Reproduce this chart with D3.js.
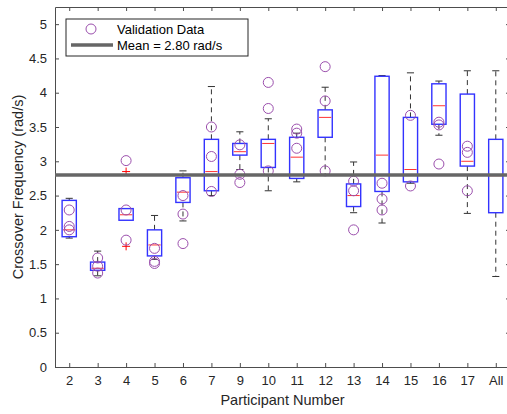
<!DOCTYPE html>
<html>
<head>
<meta charset="utf-8">
<script src="https://cdn.jsdelivr.net/npm/d3@7"></script>
<style>
  body { margin: 0; background: #fff; }
  svg { display: block; font-family: "Liberation Sans", Arial, sans-serif; }
</style>
</head>
<body>
<div id="chart"></div>
<script>
// Dimensions
const width = 507;
const height = 414;
const margin = {top: 7, right: -3, bottom: 47, left: 55};

// Data
const participants = ["2", "3", "4", "5", "6", "7", "9", "10", "11", "12", "13", "14", "15", "16", "17", "All"];
const whiskerLow  = [1.88, 1.33, 2.14, 1.57, 2.13, 2.50, 2.88, 2.57, 2.70, 2.81, 2.25, 2.10, 2.68, 3.38, 2.24, 1.32];
const q1          = [1.90, 1.41, 2.14, 1.62, 2.40, 2.57, 3.09, 2.91, 2.75, 3.35, 2.34, 2.56, 2.70, 3.54, 2.93, 2.25];
const medians     = [2.00, 1.44, 2.22, 1.78, 2.55, 2.85, 3.14, 3.26, 3.06, 3.64, 2.50, 3.09, 2.88, 3.81, 3.00, 2.79];
const q3          = [2.43, 1.53, 2.31, 2.00, 2.76, 3.32, 3.26, 3.32, 3.35, 3.75, 2.67, 4.24, 3.64, 4.13, 3.98, 3.32];
const whiskerHigh = [2.46, 1.69, 2.31, 2.21, 2.86, 4.09, 3.43, 3.62, 3.41, 4.08, 2.99, 4.25, 4.29, 4.17, 4.32, 4.32];
const outliers = [[], [], [2.85, 1.76], [], [], [], [], [], [], [], [], [], [], [], [], []];
const validation = [
    [2.29, 2.05, 2.00],
    [1.59, 1.47, 1.37],
    [3.01, 2.29, 1.85],
    [1.73, 1.54, 1.51],
    [2.50, 2.23, 1.80],
    [3.50, 3.07, 2.56],
    [3.24, 2.81, 2.69],
    [4.15, 3.77, 2.86],
    [3.47, 3.41, 3.19],
    [4.38, 3.88, 2.86],
    [2.71, 2.57, 2.00],
    [2.68, 2.45, 2.29],
    [3.67, 2.64],
    [3.57, 3.53, 2.96],
    [3.22, 3.13, 2.57],
    []
];
const meanValue = 2.80;
const yTicks = [0, 0.5, 1, 1.5, 2, 2.5, 3, 3.5, 4, 4.5, 5];

const boxes = participants.map((p, i) => ({
    name: p, lo: whiskerLow[i], q1: q1[i], med: medians[i], q3: q3[i], hi: whiskerHigh[i],
    out: outliers[i], val: validation[i]
}));

const innerW = width - margin.left - margin.right;
const innerH = height - margin.top - margin.bottom;

// Scales
const x = d3.scalePoint()
    .domain(participants)
    .range([0, innerW])
    .padding(0.5);
const step = x.step();

const y = d3.scaleLinear()
    .domain([0, 5.25])
    .range([innerH, 0]);

const svg = d3.select("#chart").append("svg")
    .attr("width", width)
    .attr("height", height);

const g = svg.append("g")
    .attr("transform", `translate(${margin.left},${margin.top})`);

const axisColor = "#4d4d4d";
const tickLen = 4;

// Axes
const xAxis = g.append("g")
    .attr("transform", `translate(0,${innerH})`)
    .call(d3.axisBottom(x).tickSizeInner(-tickLen).tickSizeOuter(0).tickPadding(9));
const xTop = g.append("g")
    .call(d3.axisTop(x).tickSizeInner(-tickLen).tickSizeOuter(0).tickFormat(""));
const yAxis = g.append("g")
    .call(d3.axisLeft(y).tickValues(yTicks).tickSizeInner(-tickLen).tickSizeOuter(0).tickPadding(8).tickFormat(d3.format("")));
const yRight = g.append("g")
    .attr("transform", `translate(${innerW},0)`)
    .call(d3.axisRight(y).tickValues(yTicks).tickSizeInner(-tickLen).tickSizeOuter(0).tickFormat(""));

[xAxis, xTop, yAxis, yRight].forEach(a => {
    a.select(".domain").attr("stroke", axisColor);
    a.selectAll(".tick line").attr("stroke", axisColor);
    a.selectAll("text").attr("fill", "#262626").style("font-size", "13px");
});

// Whiskers (dashed)
const grp = g.selectAll(".box")
    .data(boxes)
    .enter().append("g")
    .attr("class", "box")
    .attr("transform", d => `translate(${x(d.name)},0)`);

const halfBox = step * 0.25;
const halfCap = step * 0.125;

grp.append("line")
    .attr("x1", 0).attr("x2", 0)
    .attr("y1", d => y(d.q3)).attr("y2", d => y(d.hi))
    .attr("stroke", "#333").attr("stroke-dasharray", "5,4");
grp.append("line")
    .attr("x1", 0).attr("x2", 0)
    .attr("y1", d => y(d.q1)).attr("y2", d => y(d.lo))
    .attr("stroke", "#333").attr("stroke-dasharray", "5,4");
grp.filter(d => d.hi > d.q3).append("line")
    .attr("x1", -halfCap).attr("x2", halfCap)
    .attr("y1", d => y(d.hi)).attr("y2", d => y(d.hi))
    .attr("stroke", "#333");
grp.filter(d => d.lo < d.q1).append("line")
    .attr("x1", -halfCap).attr("x2", halfCap)
    .attr("y1", d => y(d.lo)).attr("y2", d => y(d.lo))
    .attr("stroke", "#333");

// Boxes
grp.append("rect")
    .attr("x", -halfBox)
    .attr("width", halfBox * 2)
    .attr("y", d => y(d.q3))
    .attr("height", d => y(d.q1) - y(d.q3))
    .attr("fill", "none")
    .attr("stroke", "#3333ff")
    .attr("stroke-width", 1.4);

// Medians
grp.append("line")
    .attr("x1", -halfBox + 1).attr("x2", halfBox - 1)
    .attr("y1", d => y(d.med)).attr("y2", d => y(d.med))
    .attr("stroke", "#ff3333");

// Outliers (red +)
grp.selectAll(".out")
    .data(d => d.out)
    .enter().append("path")
    .attr("class", "out")
    .attr("d", v => `M-4,${y(v)}H4M0,${y(v) - 4}V${y(v) + 4}`)
    .attr("stroke", "#ff0000");

// Mean line
g.append("line")
    .attr("x1", 0).attr("x2", innerW)
    .attr("y1", y(meanValue)).attr("y2", y(meanValue))
    .attr("stroke", "#666")
    .attr("stroke-width", 3.5);

// Validation data circles
grp.selectAll(".val")
    .data(d => d.val)
    .enter().append("circle")
    .attr("class", "val")
    .attr("cx", 0)
    .attr("cy", v => y(v))
    .attr("r", 5)
    .attr("fill", "none")
    .attr("stroke", "#9b4fad")
    .attr("stroke-width", 1);

// Axis labels
svg.append("text")
    .attr("x", margin.left + innerW / 2)
    .attr("y", 405)
    .attr("text-anchor", "middle")
    .attr("fill", "#262626")
    .style("font-size", "14.5px")
    .text("Participant Number");

svg.append("text")
    .attr("transform", `translate(23,${margin.top + y(2.625)}) rotate(-90)`)
    .attr("text-anchor", "middle")
    .attr("fill", "#262626")
    .style("font-size", "14.5px")
    .text("Crossover Frequency (rad/s)");

// Legend
const legend = g.append("g")
    .attr("transform", "translate(11,12)");
legend.append("rect")
    .attr("width", 182)
    .attr("height", 37)
    .attr("fill", "#fff")
    .attr("stroke", "#262626");
legend.append("circle")
    .attr("cx", 25).attr("cy", 10).attr("r", 5)
    .attr("fill", "none").attr("stroke", "#9b4fad");
legend.append("line")
    .attr("x1", 5).attr("x2", 47)
    .attr("y1", 26).attr("y2", 26)
    .attr("stroke", "#666").attr("stroke-width", 3.5);
legend.append("text")
    .attr("x", 51).attr("y", 15)
    .attr("fill", "#000")
    .style("font-size", "13px")
    .text("Validation Data");
legend.append("text")
    .attr("x", 51).attr("y", 31)
    .attr("fill", "#000")
    .style("font-size", "13px")
    .text(`Mean = ${meanValue.toFixed(2)} rad/s`);
</script>
</body>
</html>
